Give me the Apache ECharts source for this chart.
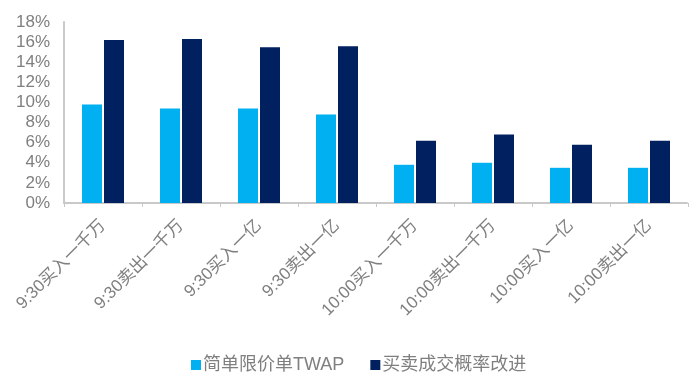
<!DOCTYPE html>
<html><head><meta charset="utf-8">
<script src="https://cdn.jsdelivr.net/npm/echarts@6/dist/echarts.min.js"></script>
<style>html,body{margin:0;padding:0;background:#fff}#c{width:696px;height:384px}</style>
</head><body><div id="c"></div>
<script>
const categories = ['9:30买入一千万','9:30卖出一千万','9:30买入一亿','9:30卖出一亿','10:00买入一千万','10:00卖出一千万','10:00买入一亿','10:00卖出一亿'];
const seriesNames = ['简单限价单TWAP','买卖成交概率改进'];
const twapValues = [9.8, 9.4, 9.4, 8.8, 3.8, 4.0, 3.5, 3.5];
const improvedValues = [16.2, 16.3, 15.5, 15.6, 6.2, 6.8, 5.8, 6.2];
const yTicks = [0, 2, 4, 6, 8, 10, 12, 14, 16, 18];

const font = 'Liberation Sans, Arial, Noto Sans CJK SC, sans-serif';
const txt = '#7f7f7f';
const chart = echarts.init(document.getElementById('c'), null, {renderer: 'canvas'});
chart.setOption({
  animation: false,
  textStyle: {fontFamily: font},
  color: ['#00B0F0', '#002060'],
  grid: {left: 64, right: 8, top: 22, bottom: 181, containLabel: false},
  legend: {
    bottom: 5, left: 186,
    itemWidth: 10, itemHeight: 10, itemGap: 26,
    icon: 'rect',
    textStyle: {fontSize: 18, color: txt, fontFamily: font, padding: [0,0,0,-3]},
    data: seriesNames
  },
  xAxis: {
    type: 'category',
    data: categories,
    axisLine: {lineStyle: {color: '#c8c8c8', type: [2, 1], width: 2}},
    axisTick: {show: true, length: 4, lineStyle: {color: '#c8c8c8'}},
    axisLabel: {rotate: 45, fontSize: 17, color: txt, margin: 20, interval: 0, fontFamily: font}
  },
  yAxis: {
    type: 'value',
    min: yTicks[0], max: yTicks[yTicks.length - 1], interval: 2,
    axisLine: {show: true, lineStyle: {color: '#c8c8c8', type: [2, 1], width: 2}},
    axisTick: {show: false},
    splitLine: {show: false},
    axisLabel: {fontSize: 17, color: txt, margin: 14, formatter: v => v + '%', fontFamily: font}
  },
  series: [
    {name: seriesNames[0], type: 'bar', data: twapValues, barWidth: 20, barGap: '10%'},
    {name: seriesNames[1], type: 'bar', data: improvedValues, barWidth: 20, barGap: '10%'}
  ]
});
</script></body></html>
